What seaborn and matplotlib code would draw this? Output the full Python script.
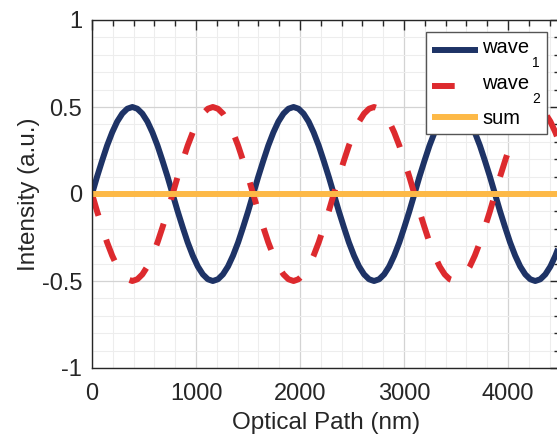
import matplotlib
matplotlib.use("Agg")
import matplotlib.pyplot as plt
from matplotlib.ticker import FixedLocator, MultipleLocator
import pandas as pd
import seaborn as sns

# Sampled optical path positions (nm)
optical_path_nm = [
    0, 48, 97, 145, 194, 242, 291, 339, 388, 436, 484, 533, 581, 630, 678, 727,
    775, 823, 872, 920, 969, 1017, 1066, 1114, 1162, 1211, 1259, 1308, 1356, 1405, 1453, 1502,
    1550, 1598, 1647, 1695, 1744, 1792, 1841, 1889, 1938, 1986, 2034, 2083, 2131, 2180, 2228, 2277,
    2325, 2373, 2422, 2470, 2519, 2567, 2616, 2664, 2712, 2761, 2809, 2858, 2906, 2955, 3003, 3052,
    3100, 3148, 3197, 3245, 3294, 3342, 3391, 3439, 3488, 3536, 3584, 3633, 3681, 3730, 3778, 3827,
    3875, 3923, 3972, 4020, 4069, 4117, 4166, 4214, 4262, 4311, 4359, 4408, 4456, 4505,
]

# First wave intensity (a.u.)
wave_1 = [
    0, 0.098, 0.191, 0.278, 0.354, 0.416, 0.462, 0.490, 0.5, 0.490, 0.462, 0.416, 0.354, 0.278, 0.191, 0.098,
    0, -0.098, -0.191, -0.278, -0.354, -0.416, -0.462, -0.490, -0.5, -0.490, -0.462, -0.416, -0.354, -0.278, -0.191, -0.098,
    0, 0.098, 0.191, 0.278, 0.354, 0.416, 0.462, 0.490, 0.5, 0.490, 0.462, 0.416, 0.354, 0.278, 0.191, 0.098,
    0, -0.098, -0.191, -0.278, -0.354, -0.416, -0.462, -0.490, -0.5, -0.490, -0.462, -0.416, -0.354, -0.278, -0.191, -0.098,
    0, 0.098, 0.191, 0.278, 0.354, 0.416, 0.462, 0.490, 0.5, 0.490, 0.462, 0.416, 0.354, 0.278, 0.191, 0.098,
    0, -0.098, -0.191, -0.278, -0.354, -0.416, -0.462, -0.490, -0.5, -0.490, -0.462, -0.416, -0.354, -0.278,
]

# Second wave intensity (a.u.), in antiphase with the first
wave_2 = [
    0, -0.098, -0.191, -0.278, -0.354, -0.416, -0.462, -0.490, -0.5, -0.490, -0.462, -0.416, -0.354, -0.278, -0.191, -0.098,
    0, 0.098, 0.191, 0.278, 0.354, 0.416, 0.462, 0.490, 0.5, 0.490, 0.462, 0.416, 0.354, 0.278, 0.191, 0.098,
    0, -0.098, -0.191, -0.278, -0.354, -0.416, -0.462, -0.490, -0.5, -0.490, -0.462, -0.416, -0.354, -0.278, -0.191, -0.098,
    0, 0.098, 0.191, 0.278, 0.354, 0.416, 0.462, 0.490, 0.5, 0.490, 0.462, 0.416, 0.354, 0.278, 0.191, 0.098,
    0, -0.098, -0.191, -0.278, -0.354, -0.416, -0.462, -0.490, -0.5, -0.490, -0.462, -0.416, -0.354, -0.278, -0.191, -0.098,
    0, 0.098, 0.191, 0.278, 0.354, 0.416, 0.462, 0.490, 0.5, 0.490, 0.462, 0.416, 0.354, 0.278,
]

# Superposition of the two waves
sum_path_nm = [0, 4505]
sum_intensity = [0.0, 0.0]

# Legend names: base text and subscript
series_names = ["wave", "wave", "sum"]
series_subscripts = ["1", "2", ""]
x_ticks = [0, 1000, 2000, 3000, 4000]
x_tick_labels = ["0", "1000", "2000", "3000", "4000"]
y_ticks = [-1, -0.5, 0, 0.5, 1]
y_tick_labels = ["-1", "-0.5", "0", "0.5", "1"]

waves = pd.DataFrame({"path": optical_path_nm, "wave_1": wave_1, "wave_2": wave_2})
total = pd.DataFrame({"path": sum_path_nm, "intensity": sum_intensity})

sns.set_theme(style="white")
plt.rcParams["font.family"] = ["Liberation Sans", "DejaVu Sans"]
plt.rcParams["axes.unicode_minus"] = False

NAVY = "#1E3366"
RED = "#DD2A2E"
AMBER = "#FDB947"
INK = "#262626"
W, H = 557, 440

fig = plt.figure(figsize=(W / 100, H / 100), dpi=100)
ax = fig.add_axes([92 / W, 72 / H, 468 / W, 348 / H])

# Legend entries leave room after the name for the subscript
legend_labels = [n + ("  " if s else "") for n, s in zip(series_names, series_subscripts)]

lw = 4.3
sns.lineplot(data=waves, x="path", y="wave_1", ax=ax, color=NAVY, lw=lw,
             label=legend_labels[0], solid_capstyle="butt")
sns.lineplot(data=waves, x="path", y="wave_2", ax=ax, color=RED, lw=lw,
             label=legend_labels[1], dash_capstyle="butt")
sns.lineplot(data=total, x="path", y="intensity", ax=ax, color=AMBER, lw=lw,
             label=legend_labels[2], solid_capstyle="butt")
ax.lines[1].set_dashes([3.8, 4.2])

ax.set_xlim(0, 4500)
ax.set_ylim(-1, 1)
ax.xaxis.set_major_locator(FixedLocator(x_ticks))
ax.set_xticklabels(x_tick_labels)
ax.yaxis.set_major_locator(FixedLocator(y_ticks))
ax.set_yticklabels(y_tick_labels)
ax.xaxis.set_minor_locator(MultipleLocator(200))
ax.yaxis.set_minor_locator(MultipleLocator(0.1))

ax.set_axisbelow(True)
ax.grid(True, which="major", color="#D3D3D3", lw=0.9)
ax.grid(True, which="minor", color="#EDEDED", lw=0.8)

ax.tick_params(which="both", direction="in", top=True, right=True,
               color=INK, width=1.0, labelsize=17, labelcolor=INK)
ax.tick_params(which="major", length=7.5)
ax.tick_params(which="minor", length=4)
ax.tick_params(axis="x", which="major", pad=10.5)
ax.tick_params(axis="y", which="major", pad=7)
for spine in ax.spines.values():
    spine.set_visible(True)
    spine.set_color(INK)
    spine.set_linewidth(1.0)

ax.set_xlabel("Optical Path (nm)", fontsize=17.5, color=INK)
ax.set_ylabel("Intensity (a.u.)", fontsize=17.5, color=INK)
ax.xaxis.set_label_coords(0.5, -0.125)
ax.yaxis.set_label_coords(-0.112, 0.5)

leg_size = 14.5
leg = ax.legend(loc="upper right", bbox_to_anchor=(0.972, 0.9655), borderaxespad=0,
                fontsize=leg_size, handlelength=2.3, handletextpad=0.2, labelspacing=0.82,
                borderpad=0.3, frameon=True, fancybox=False, framealpha=1)
leg.get_frame().set_edgecolor("#555555")
leg.get_frame().set_linewidth(1.0)
for text in leg.get_texts():
    text.set_color("black")

# Rows with a subscript have their key line centred a little lower
for line, sub in zip(leg.get_lines(), series_subscripts):
    if sub:
        line.set_ydata([y - 2.9 for y in line.get_ydata()])

# Subscripts set below the baseline, after each legend name
fig.canvas.draw()
renderer = fig.canvas.get_renderer()
for text, name, sub in zip(leg.get_texts(), series_names, series_subscripts):
    if not sub:
        continue
    bbox = text.get_window_extent(renderer)
    name_w, _, _ = renderer.get_text_width_height_descent(name, text.get_fontproperties(), ismath=False)
    _, _, full_d = renderer.get_text_width_height_descent(text.get_text(), text.get_fontproperties(), ismath=False)
    baseline = bbox.y0 + full_d
    fig.text((bbox.x0 + name_w + 2.5) / W, (baseline - 10) / H, sub,
             fontsize=10, color="black", ha="left", va="baseline")

fig.savefig("out.png", dpi=100)
